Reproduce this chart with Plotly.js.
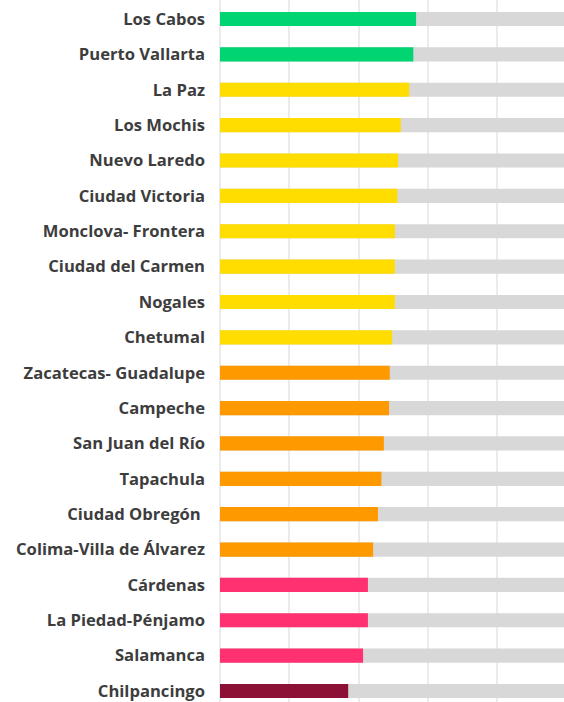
<!DOCTYPE html>
<html>
<head>
<meta charset="utf-8">
<script src="https://cdn.plot.ly/plotly-3.0.1.min.js"></script>
<style>
html,body{margin:0;padding:0;background:#fff;overflow:hidden;}
#chart{width:564px;height:702px;}
</style>
</head>
<body>
<div id="chart"></div>
<script>
var cities = ["Los Cabos","Puerto Vallarta","La Paz","Los Mochis","Nuevo Laredo","Ciudad Victoria","Monclova- Frontera","Ciudad del Carmen","Nogales","Chetumal","Zacatecas- Guadalupe","Campeche","San Juan del Río","Tapachula","Ciudad Obregón ","Colima-Villa de Álvarez","Cárdenas","La Piedad-Pénjamo","Salamanca","Chilpancingo"];
var scores = [56.6,55.8,54.6,52.2,51.4,51.2,50.5,50.5,50.5,49.7,49.0,48.8,47.3,46.6,45.6,44.2,42.7,42.7,41.3,37.0];
var tiers = ["A","A","B","B","B","B","B","B","B","B","C","C","C","C","C","C","D","D","D","E"];
var maxScore = [100,100,100,100,100,100,100,100,100,100,100,100,100,100,100,100,100,100,100,100];

var tierColors = {A:"#00d571",B:"#ffdd00",C:"#ff9900",D:"#ff3170",E:"#8b1236"};
var barColors = tiers.map(function(t){return tierColors[t];});

var traces = [
  {type:"bar",orientation:"h",y:cities,x:maxScore,width:0.4,
   marker:{color:"#d8d8d8",line:{width:0}},hoverinfo:"skip",showlegend:false},
  {type:"bar",orientation:"h",y:cities,x:scores,width:0.4,
   marker:{color:barColors,line:{width:0}},showlegend:false}
];

var layout = {
  width:564,height:702,
  margin:{l:220,r:0,t:0,b:0,pad:0},
  paper_bgcolor:"#ffffff",plot_bgcolor:"#ffffff",
  barmode:"overlay",
  font:{family:"Open Sans, sans-serif",size:16.6,color:"#3d3d3d"},
  xaxis:{range:[0,99.3],dtick:20,tick0:0,showticklabels:false,
    showgrid:true,gridcolor:"#ebebeb",gridwidth:2,
    zeroline:true,zerolinecolor:"#ebebeb",zerolinewidth:2,fixedrange:true},
  yaxis:{type:"category",range:[19.31,-0.537],showgrid:false,zeroline:false,
    ticks:"",ticklabelstandoff:14,
    tickfont:{family:"Open Sans, sans-serif",size:16.6,color:"#3d3d3d",weight:"bold"},
    fixedrange:true}
};

Plotly.newPlot("chart",traces,layout,{displayModeBar:false,staticPlot:true});
</script>
</body>
</html>
